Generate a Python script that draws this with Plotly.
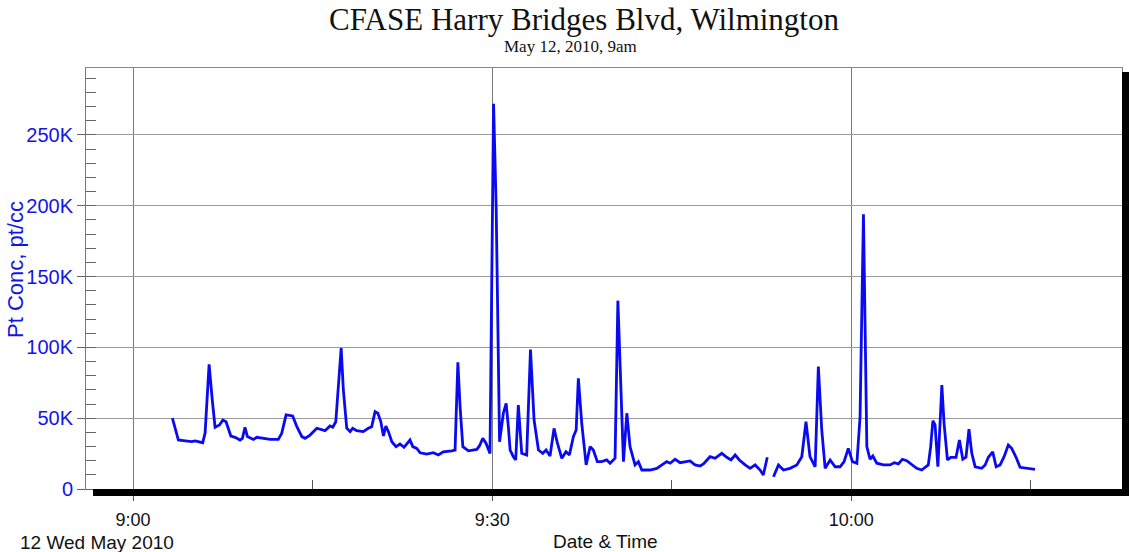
import plotly.graph_objects as go

DAY = "2010-05-12 "

times = [
    "09:03:17", "09:03:47", "09:04:21", "09:04:54", "09:05:11", "09:05:49", "09:06:01", "09:06:21",
    "09:06:37", "09:06:51", "09:07:13", "09:07:30", "09:07:46", "09:08:10", "09:08:31", "09:08:56",
    "09:09:08", "09:09:21", "09:09:33", "09:10:03", "09:10:20", "09:10:53", "09:11:27", "09:12:08",
    "09:12:25", "09:12:47", "09:13:20", "09:13:41", "09:14:06", "09:14:22", "09:14:47", "09:15:21",
    "09:15:41", "09:16:02", "09:16:27", "09:16:41", "09:16:56", "09:17:23", "09:17:34", "09:17:51",
    "09:18:08", "09:18:21", "09:18:41", "09:19:14", "09:19:39", "09:19:56", "09:20:13", "09:20:27",
    "09:20:42", "09:20:55", "09:21:07", "09:21:20", "09:21:37", "09:21:58", "09:22:18", "09:22:38",
    "09:23:08", "09:23:22", "09:23:42", "09:23:59", "09:24:32", "09:25:05", "09:25:30", "09:25:55",
    "09:26:37", "09:26:54", "09:27:08", "09:27:19", "09:27:33", "09:28:01", "09:28:43", "09:28:56",
    "09:29:13", "09:29:29", "09:29:49", "09:30:07", "09:30:20", "09:30:31", "09:30:37", "09:30:56",
    "09:31:10", "09:31:21", "09:31:30", "09:31:46", "09:31:58", "09:32:11", "09:32:28", "09:32:53",
    "09:33:12", "09:33:30", "09:33:52", "09:34:14", "09:34:30", "09:34:50", "09:35:10", "09:35:27",
    "09:35:49", "09:36:10", "09:36:27", "09:36:47", "09:37:01", "09:37:12", "09:37:29", "09:37:51",
    "09:38:11", "09:38:27", "09:38:47", "09:39:09", "09:39:34", "09:39:51", "09:40:16", "09:40:30",
    "09:40:46", "09:40:58", "09:41:15", "09:41:31", "09:41:56", "09:42:13", "09:42:30", "09:43:11",
    "09:43:45", "09:44:10", "09:44:35", "09:44:52", "09:45:17", "09:45:42", "09:46:07", "09:46:32",
    "09:46:57", "09:47:22", "09:47:39", "09:48:12", "09:48:37", "09:49:11", "09:49:36", "09:49:57",
    "09:50:18", "09:50:39", "09:51:08", "09:51:33", "09:51:58", "09:52:23", "09:52:39", "09:52:59",
    "09:53:15",
    "09:53:30", "09:53:55", "09:54:20", "09:54:53", "09:55:27", "09:55:52", "09:56:13", "09:56:33",
    "09:56:59", "09:57:15", "09:57:32", "09:57:49", "09:58:14", "09:58:39", "09:59:04", "09:59:24",
    "09:59:45", "10:00:06", "10:00:28", "10:00:44", "10:01:01", "10:01:09", "10:01:18", "10:01:34",
    "10:01:48", "10:02:08", "10:02:41", "10:03:14", "10:03:36", "10:03:56", "10:04:16", "10:04:38",
    "10:05:03", "10:05:28", "10:05:53", "10:06:10", "10:06:26", "10:06:38", "10:06:49", "10:07:00",
    "10:07:14", "10:07:25", "10:07:34", "10:07:45", "10:08:02", "10:08:19", "10:08:45", "10:09:02",
    "10:09:19", "10:09:35", "10:09:50", "10:10:04", "10:10:21", "10:10:54", "10:11:11", "10:11:27",
    "10:11:49", "10:12:06", "10:12:26", "10:12:46", "10:13:07", "10:13:24", "10:13:46", "10:14:06",
    "10:14:40", "10:15:21",
]

conc = [
    50000, 34600, 34000, 33400, 34000, 32700, 39500, 88000,
    62800, 43600, 45200, 48700, 47500, 37400, 36500, 34600,
    35800, 43600, 37000, 35000, 36500, 35800, 35000, 35000,
    39300, 52300, 51600, 44000, 37000, 35800, 38100, 42900,
    42200, 41200, 44500, 43600, 47500, 99500, 70000, 43000,
    40500, 42900, 41200, 40500, 42900, 44000, 54600, 53500,
    47500, 37400, 44500, 40500, 33400, 29900, 31800, 29400,
    34600, 29900, 28700, 25600, 24700, 25600, 24000, 26300,
    27000, 27500, 89500, 58100, 29900, 27000, 28000, 30400,
    35800, 32300, 25100, 272000, 199000, 100000, 33400, 53500,
    60500, 44000, 27500, 22800, 20500, 59300, 25200, 24000,
    98500, 48700, 27500, 25200, 27500, 23300, 42800, 32300,
    21700, 26300, 24000, 37000, 41700, 78200, 46400, 17000,
    29900, 27500, 19300, 19300, 20500, 18200, 21700, 133000,
    70000, 19300, 53500, 29900, 17000, 19300, 13400, 13400,
    14600, 17000, 19300, 18200, 21000, 18600, 19300, 19800,
    17000, 16200, 17700, 22800, 21700, 25200, 22400, 20500,
    24000, 20500, 17000, 14600, 17000, 13400, 9900, 22400,
    None,
    8700, 17000, 13400, 14600, 17000, 22800, 47500, 22800,
    15700, 86400, 41700, 14600, 20500, 15700, 15700, 19300,
    28700, 19300, 18200, 51000, 194000, 103000, 29900, 21000,
    23300, 18200, 17000, 17000, 18600, 17700, 21000, 20000,
    17000, 14600, 13400, 15300, 17000, 29900, 48200, 45200,
    15700, 46400, 73400, 46400, 20500, 22400, 22400, 34600,
    21000, 22400, 42200, 25200, 15700, 14600, 17000, 22400,
    26300, 15700, 17000, 22800, 31100, 28700, 22400, 15300,
    14600, 13900,
]

y_tick_vals = [0, 50000, 100000, 150000, 200000, 250000]
y_tick_text = ["0", "50K", "100K", "150K", "200K", "250K"]
x_tick_vals = ["09:00:00", "09:30:00", "10:00:00"]
x_tick_text = ["9:00", "9:30", "10:00"]

title_text = "CFASE Harry Bridges Blvd, Wilmington"
subtitle_text = "May 12, 2010, 9am"
y_title = "Pt Conc, pt/cc"
x_title = "Date & Time"
date_label = "12 Wed May 2010"

BLUE = "#1414e6"
x_full = [DAY + t for t in times]

fig = go.Figure()
fig.add_trace(go.Scatter(
    x=x_full, y=conc, mode="lines",
    line=dict(color="#0a0af0", width=2.8),
    connectgaps=False, hoverinfo="x+y",
))

W, H = 1130, 552
L, R, T, B = 86, 8, 68, 63
pw, ph = W - L - R, H - T - B


def px(p):
    return (p - L) / pw


def py(p):
    return (H - B - p) / ph


fig.update_layout(
    width=W, height=H,
    margin=dict(l=L, r=R, t=T, b=B),
    paper_bgcolor="white", plot_bgcolor="white",
    showlegend=False,
    xaxis=dict(
        type="date",
        range=[DAY + "08:56:04", DAY + "10:22:37"],
        tickvals=[DAY + t for t in x_tick_vals],
        ticktext=x_tick_text,
        ticks="outside", ticklen=11, tickcolor="#555", tickwidth=1,
        ticklabelstandoff=3,
        showgrid=True, gridcolor="#7a7a7a", gridwidth=1,
        showline=True, linecolor="#888", linewidth=1, mirror=True,
        zeroline=False,
        tickfont=dict(family="Liberation Sans, Arial", size=18, color="#111"),
        minor=dict(
            tickvals=[DAY + "09:15:00", DAY + "09:45:00", DAY + "10:15:00"],
            ticks="inside", ticklen=9, tickcolor="#555", showgrid=False,
        ),
    ),
    yaxis=dict(
        range=[0, 297300],
        tickvals=y_tick_vals, ticktext=y_tick_text,
        ticks="outside", ticklen=8, tickcolor="#666", tickwidth=1,
        showgrid=True, gridcolor="#9a9a9a", gridwidth=1,
        showline=True, linecolor="#777", linewidth=1, mirror=True,
        zeroline=False,
        tickfont=dict(family="Liberation Sans, Arial", size=20, color=BLUE),
        minor=dict(dtick=10000, tick0=0, ticks="inside", ticklen=10,
                   tickcolor="#666", showgrid=False),
    ),
    shapes=[
        dict(type="rect", xref="paper", yref="paper",
             x0=px(93), x1=px(1129), y0=py(496), y1=py(489),
             fillcolor="black", line=dict(width=0), layer="above"),
        dict(type="rect", xref="paper", yref="paper",
             x0=px(1122), x1=px(1129), y0=py(496), y1=py(72),
             fillcolor="black", line=dict(width=0), layer="above"),
    ],
    annotations=[
        dict(text=title_text, xref="paper", yref="paper", x=px(584), y=py(19),
             xanchor="center", yanchor="middle", showarrow=False,
             font=dict(family="Liberation Serif, Times New Roman", size=31, color="#111")),
        dict(text=subtitle_text, xref="paper", yref="paper", x=px(570), y=py(46),
             xanchor="center", yanchor="middle", showarrow=False,
             font=dict(family="Liberation Serif, Times New Roman", size=17, color="#111")),
        dict(text=y_title, xref="paper", yref="paper", x=px(15), y=py(270),
             xanchor="center", yanchor="middle", showarrow=False, textangle=-90,
             font=dict(family="Liberation Sans, Arial", size=22, color=BLUE)),
        dict(text=x_title, xref="paper", yref="paper", x=px(605), y=py(541),
             xanchor="center", yanchor="middle", showarrow=False,
             font=dict(family="Liberation Sans, Arial", size=19, color="#111")),
        dict(text=date_label, xref="paper", yref="paper", x=px(18), y=py(542),
             xanchor="left", yanchor="middle", showarrow=False,
             font=dict(family="Liberation Sans, Arial", size=19, color="#111")),
    ],
)

fig.write_html(
    "out.html",
    config={"displayModeBar": False},
    post_script="document.body.style.margin='0px'; document.body.style.overflow='hidden';",
)
